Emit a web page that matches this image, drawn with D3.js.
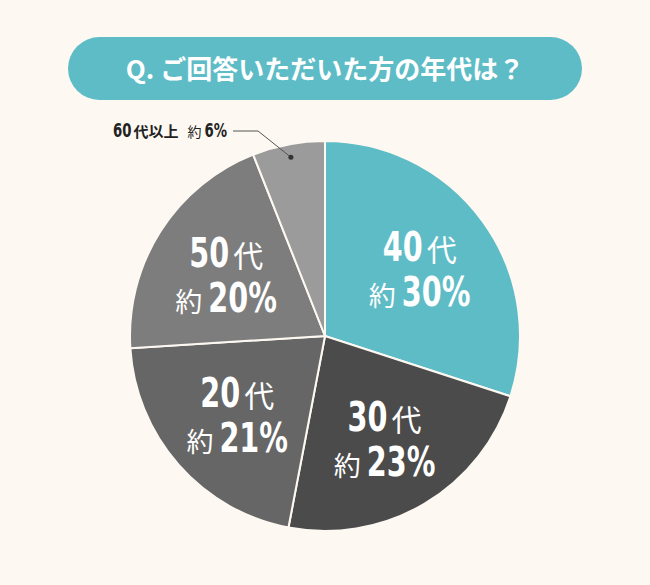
<!DOCTYPE html>
<html>
  <script src="https://d3js.org/d3.v7.min.js" type="text/JavaScript"></script>
  <style>
    body { margin: 0; background: #fdf9f2; }
    svg { display: block; }
  </style>
  <body>
    <svg></svg>
    <script>
// values (percent)
var ages = ['40', '30', '20', '50', '60'];
var ageSuffix = ['代', '代', '代', '代', '代以上'];
var shares = [30, 23, 21, 20, 6];
var colors = ['#5ebcc6', '#4b4b4b', '#666666', '#7d7d7d', '#9b9b9b'];
var title = 'Q. ご回答いただいた方の年代は？';

var W = 650, H = 585;
var cx = 325, cy = 336, R = 195;
var numFont = '"DejaVu Sans", sans-serif';
var jpFont = '"Noto Sans CJK JP", sans-serif';
var squeeze = 0.7;

var svg = d3.select('svg')
  .attr('width', W)
  .attr('height', H);

svg.append('rect')
  .attr('width', W).attr('height', H)
  .style('fill', '#fdf9f2');

// title pill
svg.append('rect')
  .attr('x', 68).attr('y', 37)
  .attr('width', 514).attr('height', 63)
  .attr('rx', 31.5)
  .style('fill', '#5ebcc6');

svg.append('text')
  .attr('x', 325).attr('y', 79)
  .attr('text-anchor', 'middle')
  .style('font-family', jpFont)
  .style('font-weight', 'bold')
  .style('font-size', '26px')
  .style('fill', '#fff')
  .text(title);

var data = ages.map((a, i) => ({ age: a, suffix: ageSuffix[i], share: shares[i], color: colors[i] }));

var pie = d3.pie().sort(null).value(d => d.share);
var arcs = pie(data);
var arc = d3.arc().innerRadius(0).outerRadius(R);
var labelArc = d3.arc().innerRadius(117).outerRadius(117);
var dotArc = d3.arc().innerRadius(182).outerRadius(182);

var g = svg.append('g').attr('transform', 'translate(' + cx + ',' + cy + ')');

g.selectAll('path')
  .data(arcs)
  .enter()
  .append('path')
    .attr('d', arc)
    .style('fill', d => d.data.color)
    .style('stroke', '#fdf9f2')
    .style('stroke-width', '2px');

// lays out a row of text pieces; numbers get squeezed to look condensed
function row(parent, parts, x, y, anchor, fill) {
  var items = parts.map(p => {
    var t = parent.append('text')
      .style('font-family', p.num ? numFont : jpFont)
      .style('font-weight', p.bold ? 'bold' : 'normal')
      .style('font-size', p.size + 'px')
      .style('fill', fill)
      .text(p.text);
    var w = t.node().getComputedTextLength() * (p.num ? squeeze : 1);
    return { t: t, w: w, p: p };
  });
  var total = d3.sum(items, d => d.w + (d.p.gap || 0));
  var pos = anchor === 'middle' ? x - total / 2 : x;
  items.forEach(d => {
    pos += d.p.gap || 0;
    var sx = d.p.num ? squeeze : 1;
    d.t.attr('transform', 'translate(' + pos + ',' + y + ') scale(' + sx + ',1)');
    pos += d.w;
  });
}

// inside labels for the big slices
arcs.filter(d => d.data.share >= 10).forEach(d => {
  var c = labelArc.centroid(d);
  var lg = g.append('g');
  row(lg, [
    { text: d.data.age, num: true, bold: true, size: 41 },
    { text: d.data.suffix, size: 30, gap: 4 }
  ], c[0], c[1] - 6, 'middle', '#fff');
  row(lg, [
    { text: '約', size: 27 },
    { text: d.data.share + '%', num: true, bold: true, size: 41, gap: 6 }
  ], c[0], c[1] + 39, 'middle', '#fff');
});

// outside label for the small slice
arcs.filter(d => d.data.share < 10).forEach(d => {
  var p = dotArc.centroid(d);
  var px = cx + p[0], py = cy + p[1];
  svg.append('polyline')
    .attr('points', [[233, 131], [258, 131], [px, py]].join(' '))
    .style('fill', 'none')
    .style('stroke', '#555')
    .style('stroke-width', '1px');
  svg.append('circle')
    .attr('cx', px).attr('cy', py).attr('r', 2.5)
    .style('fill', '#333');
  row(svg, [
    { text: d.data.age, num: true, bold: true, size: 19 },
    { text: d.data.suffix, bold: true, size: 15, gap: 2 },
    { text: '約', size: 14, gap: 9 },
    { text: d.data.share + '%', num: true, bold: true, size: 19, gap: 3 }
  ], 113, 137, 'start', '#222');
});
    </script>
  </body>
</html>
